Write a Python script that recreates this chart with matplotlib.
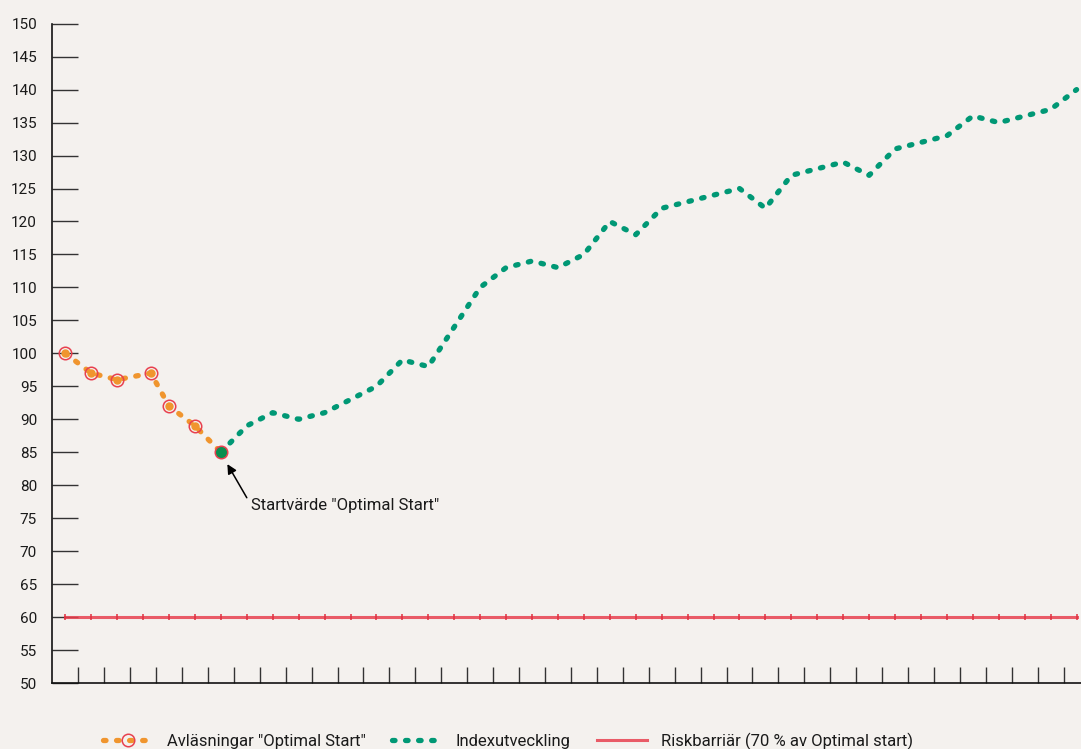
import matplotlib
matplotlib.use("Agg")
import matplotlib.pyplot as plt
from matplotlib.lines import Line2D
import numpy as np

# readings "Optimal Start" (orange), index (green), risk barrier (red)
reading_x = [0.5, 1.5, 2.5, 3.8, 4.5, 5.5, 6.5]
reading_y = [100, 97, 96, 97, 92, 89, 85]

index_x = np.arange(6.5, 40, 1.0)
index_y = [85, 89, 91, 90, 91, 93, 95, 99, 98, 104, 110, 113, 114, 113, 115,
           120, 118, 122, 123, 124, 125, 122, 127, 128, 129, 127, 131, 132,
           133, 136, 135, 136, 137, 140]

barrier_x = np.arange(0.5, 40, 1.0)
barrier_y = [60] * len(barrier_x)

y_ticks = list(range(50, 155, 5))
x_ticks = list(range(1, 40))

bg = "#f4f1ee"
orange = "#f0952e"
green = "#009875"
red = "#e8414f"

plt.rcParams["font.family"] = ["Roboto", "DejaVu Sans"]
plt.rcParams["lines.scale_dashes"] = False

fig = plt.figure(figsize=(10.81, 7.49), dpi=100, facecolor=bg)
ax = fig.add_axes([0.0484, 0.0881, 0.9516, 0.8803], facecolor=bg)

dots = (0, (1.8, 7.6))
lw_dots = 3.8

ax.plot(barrier_x, barrier_y, color=red, lw=2.2, alpha=0.85, zorder=2,
        marker="|", markersize=4, markeredgewidth=1.3, markeredgecolor="#e0303f")

ax.plot(index_x, index_y, color=green, lw=lw_dots, linestyle=dots,
        dash_capstyle="round", zorder=3)
ax.plot(reading_x, reading_y, color=orange, lw=lw_dots, linestyle=dots,
        dash_capstyle="round", zorder=3)

# red rings on the readings
ax.plot(reading_x[:-1], reading_y[:-1], linestyle="none", marker="o",
        markersize=5, markerfacecolor=orange, markeredgecolor=orange, zorder=4)
ax.plot(reading_x[:-1], reading_y[:-1], linestyle="none", marker="o",
        markersize=9, markerfacecolor="none", markeredgecolor=red,
        markeredgewidth=1.1, zorder=5)
# start value
ax.plot(reading_x[-1], reading_y[-1], linestyle="none", marker="o",
        markersize=9, markerfacecolor="#0a8e4f", markeredgecolor=red,
        markeredgewidth=1.1, zorder=6)

ax.annotate("", xy=(6.75, 83.2), xytext=(7.5, 78.1),
            arrowprops=dict(arrowstyle="-|>", color="black", lw=1.1,
                            mutation_scale=14, shrinkA=0, shrinkB=0))
ax.text(7.67, 76.9, 'Startvärde "Optimal Start"', fontsize=12,
        color="#1a1a1a", ha="left", va="center")

ax.set_xlim(0, 39.67)
ax.set_ylim(50, 150)
ax.set_yticks(y_ticks)
ax.set_xticks(x_ticks)
ax.set_xticklabels([])
ax.tick_params(axis="y", direction="in", length=18.7, width=1.0,
               color="#333333", pad=11, labelsize=11, labelcolor="#1a1a1a")
ax.tick_params(axis="x", direction="in", length=11.5, width=1.0,
               color="#333333")
for s in ["top", "right"]:
    ax.spines[s].set_visible(False)
for s in ["left", "bottom"]:
    ax.spines[s].set_linewidth(1.2)
    ax.spines[s].set_color("#111111")

handles = [
    Line2D([], [], color=orange, lw=lw_dots, linestyle=dots, dash_capstyle="round",
           marker="o", markersize=9, markerfacecolor="none",
           markeredgecolor=red, markeredgewidth=1.1),
    Line2D([], [], color=green, lw=lw_dots, linestyle=dots, dash_capstyle="round"),
    Line2D([], [], color=red, lw=2.2, alpha=0.85),
]
labels = ['Avläsningar "Optimal Start"', "Indexutveckling",
          "Riskbarriär (70 % av Optimal start)"]
leg = fig.legend(handles, labels, loc="center",
                 bbox_to_anchor=(508 / 1081, 1 - 741 / 749), ncol=3,
                 frameon=False, handlelength=3.0,
                 columnspacing=1.6, handletextpad=0.8, numpoints=1,
                 prop={"family": ["Roboto", "DejaVu Sans"], "size": 12})
for t in leg.get_texts():
    t.set_color("#1a1a1a")

fig.savefig("out.png", dpi=100, facecolor=bg)
